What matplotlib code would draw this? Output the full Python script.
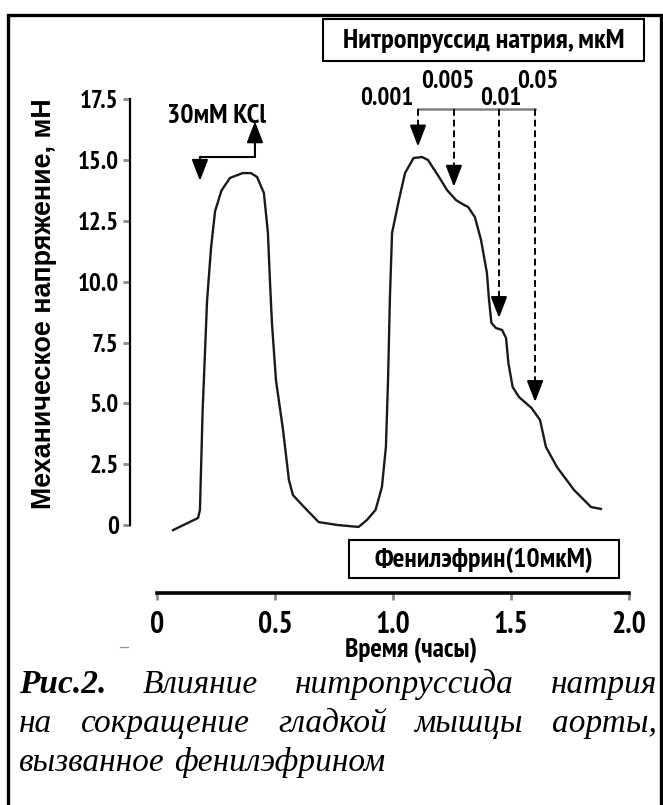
import numpy as np
import matplotlib
matplotlib.use('Agg')
import matplotlib.pyplot as plt
from matplotlib.patches import Rectangle

# Запись сокращения: время (ч) и механическое напряжение (мН)
time_h = [0.068, 0.174, 0.182, 0.193, 0.212, 0.229, 0.246, 0.273, 0.309, 0.363,
          0.398, 0.424, 0.453, 0.470, 0.479, 0.487, 0.504, 0.534, 0.559, 0.576,
          0.623, 0.685, 0.765, 0.854, 0.890, 0.926, 0.953, 0.970, 0.979, 0.987,
          0.996, 1.025, 1.051, 1.087, 1.123, 1.148, 1.195, 1.229, 1.267, 1.301,
          1.318, 1.347, 1.373, 1.398, 1.407, 1.417, 1.436, 1.462, 1.479, 1.489,
          1.507, 1.534, 1.587, 1.623, 1.648, 1.695, 1.767, 1.839, 1.881]
tension = [-0.21, 0.29, 0.62, 4.61, 9.20, 11.40, 12.90, 13.75, 14.27, 14.47,
           14.47, 14.31, 13.65, 12.01, 9.95, 8.31, 5.96, 3.91, 1.85, 1.23,
           0.74, 0.12, 0.00, -0.08, 0.21, 0.62, 1.56, 3.21, 5.96, 9.38,
           12.01, 13.36, 14.47, 15.09, 15.13, 15.01, 14.31, 13.77, 13.36, 13.16,
           13.08, 12.66, 11.72, 10.36, 9.25, 8.31, 8.10, 8.02, 7.69, 6.66,
           5.67, 5.26, 4.81, 4.32, 3.21, 2.38, 1.44, 0.74, 0.66]

# добавки нитропруссида натрия (мкМ)
dose_time = [1.106, 1.258, 1.449, 1.602]
dose_label = ['0.001', '0.005', '0.01', '0.05']
dose_label_dx = [-0.133, -0.025, 0.009, 0.010]
dose_label_y = [17.27, 17.97, 17.27, 17.97]

# добавка и отмывка KCl
kcl_time = [0.182, 0.415]

x_ticks = [0, 0.5, 1.0, 1.5, 2.0]
x_tick_labels = ['0', '0.5', '1.0', '1.5', '2.0']
y_ticks = [0, 2.5, 5.0, 7.5, 10.0, 12.5, 15.0, 17.5]
y_tick_labels = ['0', '2.5', '5.0', '7.5', '10.0', '12.5', '15.0', '17.5']

W, H = 663, 805
X0, SX = 157, 236      # пиксель x=0 и пикселей на час
Y0, SY = 525, 24.32    # пиксель y=0 и пикселей на мН

narrow = ['PT Sans Narrow', 'Roboto Condensed', 'DejaVu Sans']

fig = plt.figure(figsize=(W / 100, H / 100), dpi=100)

xlim = (-0.2, 2.05)
ylim = (-3.5, 18.5)
ax = fig.add_axes([(X0 + SX * xlim[0]) / W,
                   (H - (Y0 - SY * ylim[0])) / H,
                   SX * (xlim[1] - xlim[0]) / W,
                   SY * (ylim[1] - ylim[0]) / H])
ax.set_xlim(*xlim)
ax.set_ylim(*ylim)
ax.patch.set_visible(False)

ax.plot(time_h, tension, color='#1a1a1a', lw=1.7, solid_joinstyle='round')

# оси
for s in ('top', 'right'):
    ax.spines[s].set_visible(False)
ax.spines['left'].set_position(('data', -0.115))
ax.spines['left'].set_bounds(0, 17.5)
ax.spines['left'].set_linewidth(1.6)
ax.spines['bottom'].set_position(('data', -2.8))
ax.spines['bottom'].set_bounds(0, 2)
ax.spines['bottom'].set_linewidth(2.6)

ax.set_xticks(x_ticks)
ax.set_xticklabels(x_tick_labels, family=narrow, fontweight='bold', fontsize=21.5)
ax.set_yticks(y_ticks)
ax.set_yticklabels(y_tick_labels, family=narrow, fontweight='bold', fontsize=18)
ax.tick_params(axis='both', color='#8c8c8c', width=2, length=5, direction='out')
ax.tick_params(axis='y', pad=3)
ax.tick_params(axis='x', pad=8)

ax.text((44 - X0) / SX, (Y0 - 304) / SY, 'Механическое напряжение, мН',
        rotation=90, ha='center', va='center', fontsize=19.4,
        family=['Liberation Sans', 'DejaVu Sans'], fontweight='bold')
ax.text((411 - X0) / SX, (Y0 - 650) / SY, 'Время (часы)', ha='center', va='center',
        fontsize=19.5, family=narrow, fontweight='bold', clip_on=False)

# KCl
kcl_y = 15.13
head = 'head_width=0.5,head_length=1.3'
arrow_kw = dict(arrowstyle='-|>,' + head, color='k', lw=1.5,
                shrinkA=0, shrinkB=0, mutation_scale=10)
ax.plot(kcl_time, [kcl_y, kcl_y], color='k', lw=1.5)
ax.annotate('', xy=(kcl_time[0], 14.15), xytext=(kcl_time[0], kcl_y), arrowprops=arrow_kw)
ax.annotate('', xy=(kcl_time[1], 16.6), xytext=(kcl_time[1], kcl_y), arrowprops=arrow_kw)
ax.text((217 - X0) / SX, (Y0 - 116) / SY, '30мМ KCl', ha='center', va='center',
        fontsize=20, family=narrow, fontweight='bold')

# нитропруссид: пунктирные стрелки к моментам добавок
top_y = 17.1
head_len = 0.7
ax.plot([dose_time[0], dose_time[-1]], [top_y, top_y], color='#808080', lw=1.8)
for t, lab, dx, ly in zip(dose_time, dose_label, dose_label_dx, dose_label_y):
    tip = np.interp(t, time_h, tension) + 0.45
    ax.plot([t, t], [top_y, tip + head_len], color='k', lw=1.4, ls=(0, (3.5, 2)))
    ax.annotate('', xy=(t, tip), xytext=(t, tip + head_len), arrowprops=arrow_kw)
    ax.text(t + dx, ly, lab, ha='center', va='baseline', fontsize=18,
            family=narrow, fontweight='bold')


def px_box(x1, y1, x2, y2, lw=1.5):
    fig.add_artist(Rectangle((x1 / W, 1 - y2 / H), (x2 - x1) / W, (y2 - y1) / H,
                             transform=fig.transFigure, fill=False, ec='k', lw=lw))


px_box(323, 19, 644, 61)
fig.text(483.5 / W, 1 - 41 / H, 'Нитропруссид натрия, мкМ', ha='center', va='center',
         fontsize=20.5, family=narrow, fontweight='bold')
px_box(349, 540, 619, 578)
fig.text(484 / W, 1 - 560 / H, 'Фенилэфрин(10мкМ)', ha='center', va='center',
         fontsize=20, family=narrow, fontweight='bold')

# рамка
px_box(8, 15, 661, 840, lw=2.4)
fig.add_artist(plt.Line2D([120 / W, 128 / W], [1 - 647 / H] * 2, color='#999999', lw=1))

# подпись к рисунку
serif = ['Liberation Serif', 'DejaVu Serif']
cap_size = 24
renderer = fig.canvas.get_renderer()


def caption_line(words, y_px, justify=True, left=19, right=657):
    texts = []
    for w, bold in words:
        texts.append(fig.text(0, 1 - y_px / H, w, ha='left', va='baseline',
                              fontsize=cap_size, family=serif, style='italic',
                              fontweight='bold' if bold else 'normal'))
    widths = [t.get_window_extent(renderer).width for t in texts]
    if justify and len(texts) > 1:
        gap = (right - left - sum(widths)) / (len(texts) - 1)
    else:
        gap = 0.27 * cap_size * 100 / 72
    x = left
    for t, w in zip(texts, widths):
        t.set_x(x / W)
        x += w + gap


caption_line([('Рис.2.', True), ('Влияние', False), ('нитропруссида', False),
              ('натрия', False)], 693)
caption_line([('на', False), ('сокращение', False), ('гладкой', False),
              ('мышцы', False), ('аорты,', False)], 732)
caption_line([('вызванное', False), ('фенилэфрином', False)], 771, justify=False)

fig.savefig('out.png', dpi=100)
